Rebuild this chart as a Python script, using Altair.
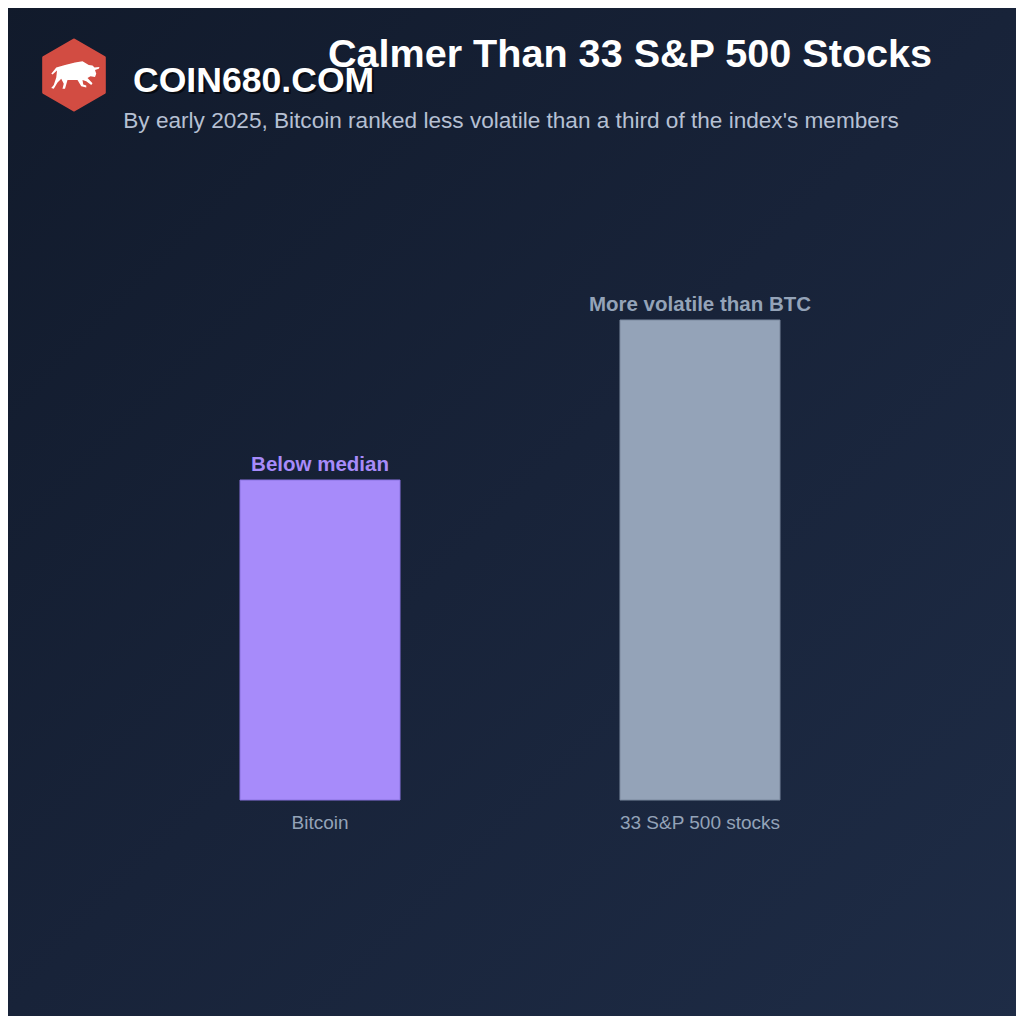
import altair as alt
import pandas as pd

# ---- data ----
categories = ["Bitcoin", "33 S&P 500 stocks"]
values = [2, 3]  # relative volatility rank (bar heights)
bar_labels = ["Below median", "More volatile than BTC"]
bar_colors = ["#a78bfa", "#94a3b8"]
stroke_colors = ["#8a72e0", "#7b899e"]

title_text = "Calmer Than 33 S&P 500 Stocks"
subtitle_text = "By early 2025, Bitcoin ranked less volatile than a third of the index's members"
brand_text = "COIN680.COM"

df = pd.DataFrame({
    "category": categories,
    "value": values,
    "label": bar_labels,
    "color": bar_colors,
    "stroke": stroke_colors,
})
one = pd.DataFrame({"a": [0]})

PW, PH = 760, 640          # plot area
OX, OY = 130, 160          # plot origin in reference coords
TOTAL = 1008
FONT = "Liberation Sans"

x_enc = alt.X("category:N", sort=categories,
              scale=alt.Scale(paddingInner=0.5789, paddingOuter=0.2895),
              axis=alt.Axis(title=None, labelAngle=0, domain=False, ticks=False,
                            labelColor="#94a3b8", labelFontSize=19, labelFont=FONT,
                            labelPadding=13, grid=False, zindex=2))
y_enc = alt.Y("value:Q", scale=alt.Scale(domain=[0, 4], nice=False), axis=None)

grad = alt.Gradient(gradient="linear",
                    stops=[alt.GradientStop(color="#111a2b", offset=0),
                           alt.GradientStop(color="#182339", offset=0.5),
                           alt.GradientStop(color="#1e2c46", offset=1)],
                    x1=0, y1=0, x2=1, y2=1)

bg = alt.Chart(one).mark_rect(color=grad).encode(
    x=alt.value(-OX), x2=alt.value(1024 - OX),
    y=alt.value(-OY), y2=alt.value(1024 - OY))

hexagon = "M0,-1 L0.866,-0.5 L0.866,0.5 L0,1 L-0.866,0.5 L-0.866,-0.5 Z"
logo = alt.Chart(one).mark_point(shape=hexagon, filled=True, color="#d24c42",
                                 opacity=1, size=4900, strokeJoin="round",
                                 stroke="#d24c42", strokeWidth=3).encode(
    x=alt.value(74 - OX), y=alt.value(75 - OY))

bull = ("M -0.75,-0.30 L -0.95,-0.05 L -0.9,-0.02 L -0.72,-0.18 L -0.75,0.10 "
        "L -0.85,0.40 L -0.95,0.52 L -0.85,0.55 L -0.70,0.30 L -0.55,0.15 "
        "L -0.45,0.35 L -0.50,0.55 L -0.40,0.55 L -0.30,0.20 L 0.10,0.20 "
        "L 0.25,0.45 L 0.45,0.50 L 0.45,0.42 L 0.33,0.38 L 0.30,0.20 "
        "L 0.45,0.25 L 0.65,0.40 L 0.70,0.33 L 0.50,0.12 L 0.62,0.05 "
        "L 0.80,0.08 L 0.85,-0.05 L 0.80,-0.20 L 0.95,-0.25 L 0.98,-0.32 "
        "L 0.78,-0.30 L 0.70,-0.38 L 0.55,-0.40 L 0.30,-0.55 L 0.0,-0.50 "
        "L -0.40,-0.40 Z")
bull_mark = alt.Chart(one).mark_point(shape=bull, filled=True, color="white",
                                      opacity=1, size=2500).encode(
    x=alt.value(75 - OX), y=alt.value(75 - OY))

brand_shadow = alt.Chart(one).mark_text(
    text=brand_text, font=FONT, fontSize=35.6, fontWeight="bold",
    color="#000000", opacity=0.6, align="left", baseline="alphabetic").encode(
    x=alt.value(133 - OX + 2), y=alt.value(92 - OY + 2))
brand = alt.Chart(one).mark_text(
    text=brand_text, font=FONT, fontSize=35.6, fontWeight="bold",
    color="#ffffff", align="left", baseline="alphabetic").encode(
    x=alt.value(133 - OX), y=alt.value(92 - OY))

title = alt.Chart(one).mark_text(
    text=title_text, font=FONT, fontSize=39.6, fontWeight="bold",
    color="#ffffff", align="center", baseline="alphabetic").encode(
    x=alt.value(630 - OX), y=alt.value(67 - OY))

subtitle = alt.Chart(one).mark_text(
    text=subtitle_text, font=FONT, fontSize=22.6,
    color="#b6c0d3", align="center", baseline="alphabetic").encode(
    x=alt.value(511 - OX), y=alt.value(128 - OY))

bars = alt.Chart(df).mark_bar(strokeWidth=1).encode(
    x=x_enc, y=y_enc,
    color=alt.Color("color:N", scale=None),
    stroke=alt.Stroke("stroke:N", scale=None))

labels = alt.Chart(df).mark_text(
    font=FONT, fontSize=20.5, fontWeight="bold", baseline="alphabetic", dy=-9).encode(
    x=x_enc, y=y_enc,
    text="label:N",
    color=alt.Color("color:N", scale=None))

chart = alt.layer(bg, logo, bull_mark, brand_shadow, brand, title, subtitle,
                  bars, labels).properties(
    width=PW, height=PH,
    autosize=alt.AutoSizeParams(type="none"),
    padding={"left": OX - 8, "top": OY - 8,
             "right": TOTAL - (OX - 8) - PW, "bottom": TOTAL - (OY - 8) - PH},
    background="#172238",
).configure_view(stroke=None)

chart.save("out.html", embed_options={"renderer": "svg", "actions": False})
